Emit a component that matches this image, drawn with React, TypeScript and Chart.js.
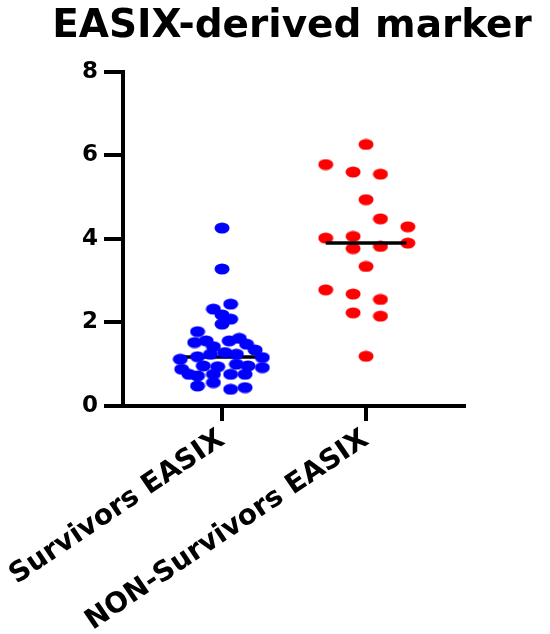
import React, { useEffect, useRef } from "react";
import { Chart, registerables } from "chart.js";
Chart.register(...registerables);

const titleText = "EASIX-derived marker";
const categories = ["Survivors EASIX", "NON-Survivors EASIX"];
const yTicks = [0, 2, 4, 6, 8];

const survivorValues = [
  4.26, 3.28, 2.44, 2.32, 2.18, 2.08, 1.96, 1.78, 1.62, 1.56, 1.56, 1.52,
  1.48, 1.42, 1.34, 1.28, 1.24, 1.24, 1.18, 1.16, 1.12, 1.0, 0.96, 0.94,
  0.96, 0.92, 0.88, 0.76, 0.72, 0.76, 0.76, 0.76, 0.48, 0.56, 0.4, 0.44,
];
const survivorJitter = [
  0, 0, 0.06, -0.06, 0, 0.06, 0, -0.17, 0.12, 0.05, -0.11, -0.19,
  0.17, -0.06, 0.23, 0.02, -0.08, 0.1, -0.17, 0.28, -0.29, 0.1, -0.13, -0.03,
  0.18, 0.28, -0.28, -0.23, -0.17, -0.06, 0.06, 0.16, -0.17, -0.06, 0.06, 0.16,
];

const nonSurvivorValues = [
  6.26, 5.78, 5.6, 5.55, 4.94, 4.48, 4.29, 4.02, 4.06, 3.9, 3.77, 3.82,
  3.34, 2.78, 2.68, 2.55, 2.23, 2.15, 1.19,
];
const nonSurvivorJitter = [
  0, -0.28, -0.09, 0.1, 0, 0.1, 0.29, -0.28, -0.09, 0.29, -0.09, 0.1,
  0, -0.28, -0.09, 0.1, -0.09, 0.1, 0,
];

const medians = [1.17, 3.9];

function makeEllipse(color: string) {
  const c = document.createElement("canvas");
  c.width = 16;
  c.height = 12;
  const ctx = c.getContext("2d")!;
  ctx.fillStyle = color;
  ctx.beginPath();
  ctx.ellipse(8, 6, 7.5, 5.5, 0, 0, Math.PI * 2);
  ctx.fill();
  return c;
}

export default function App() {
  const ref = useRef<HTMLCanvasElement | null>(null);
  useEffect(() => {
    if (!ref.current) return;
    const blueDot = makeEllipse("#0000ff");
    const redDot = makeEllipse("#ff0000");
    const half = 0.28;
    const medianLine = (i: number) => ({
      type: "line" as const,
      data: [
        { x: i + 1 - half, y: medians[i] },
        { x: i + 1 + half, y: medians[i] },
      ],
      borderColor: "#000",
      borderWidth: 3.5,
      pointRadius: 0,
      showLine: true,
      fill: false,
    });
    const chart = new Chart(ref.current, {
      type: "scatter",
      data: {
        datasets: [
          medianLine(1) as any,
          {
            type: "scatter",
            data: nonSurvivorValues.map((v, i) => ({ x: 2 + nonSurvivorJitter[i], y: v })),
            pointStyle: redDot,
            pointRadius: 7,
            backgroundColor: "#ff0000",
            borderColor: "#ff0000",
          },
          {
            type: "scatter",
            data: survivorValues.map((v, i) => ({ x: 1 + survivorJitter[i], y: v })),
            pointStyle: blueDot,
            pointRadius: 7,
            backgroundColor: "#0000ff",
            borderColor: "#0000ff",
          },
          medianLine(0) as any,
        ],
      },
      options: {
        animation: false,
        responsive: false,
        layout: { padding: { left: 34, right: 0, top: 0, bottom: 0 } },
        plugins: {
          legend: { display: false },
          tooltip: { enabled: false },
          title: {
            display: true,
            text: titleText,
            color: "#000",
            font: { family: "DejaVu Sans", weight: "bold", size: 39 },
            padding: { top: 3, bottom: 22 },
          },
        },
        scales: {
          x: {
            type: "linear",
            min: 0.3125,
            max: 2.68,
            afterBuildTicks: (s: any) => {
              s.ticks = categories.map((_, i) => ({ value: i + 1 }));
            },
            afterFit: (s: any) => {
              s.height = 228;
              s.paddingLeft = 0;
              s.paddingRight = 0;
            },
            ticks: {
              autoSkip: false,
              minRotation: 34,
              maxRotation: 34,
              color: "#000",
              padding: 2,
              font: { family: "DejaVu Sans", weight: "bold", size: 28 },
              callback: (v: any) => categories[Math.round(Number(v)) - 1] ?? "",
            },
            grid: { drawOnChartArea: false, drawTicks: true, tickLength: 15, lineWidth: 4, color: "#000" },
            border: { display: true, width: 4, color: "#000" },
          },
          y: {
            type: "linear",
            min: 0,
            max: 8,
            afterBuildTicks: (s: any) => {
              s.ticks = yTicks.map((v) => ({ value: v }));
            },
            afterFit: (s: any) => {
              s.width = 89;
            },
            ticks: {
              color: "#000",
              padding: 6,
              font: { family: "DejaVu Sans", weight: "bold", size: 23 },
            },
            grid: { drawOnChartArea: false, drawTicks: true, tickLength: 19, lineWidth: 4, color: "#000" },
            border: { display: true, width: 4, color: "#000" },
          },
          y2: {
            type: "linear",
            position: "right",
            display: true,
            afterFit: (s: any) => {
              s.width = 86;
            },
            ticks: { display: false },
            grid: { display: false },
            border: { display: false },
          },
        },
      } as any,
    });
    return () => chart.destroy();
  }, []);
  return (
    <div style={{ position: "fixed", left: 0, top: 0, width: 550, height: 634, background: "#fff" }}>
      <canvas ref={ref} width={550} height={634} style={{ display: "block" }} />
    </div>
  );
}
